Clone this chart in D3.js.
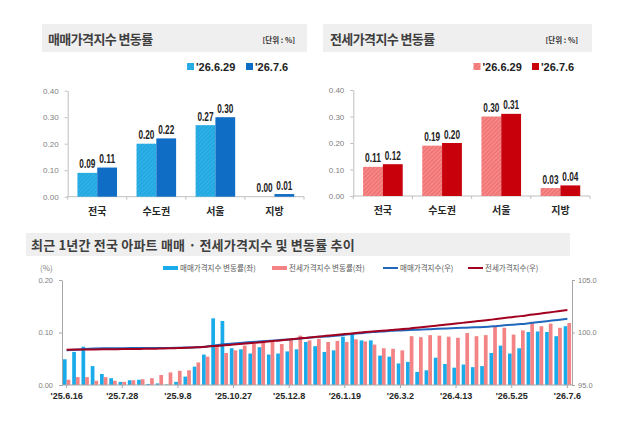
<!DOCTYPE html>
<html>
<head>
<meta charset="utf-8">
<script src="https://cdn.jsdelivr.net/npm/d3@7"></script>
<style>
  body { margin: 0; background: #fff; }
  svg { display: block; }
  text { font-family: "Liberation Sans", Arial, sans-serif; }
  .kr { font-family: "Noto Sans CJK KR", sans-serif; }
  .num { font-family: "Liberation Sans Narrow", "Liberation Sans", sans-serif; }
</style>
</head>
<body>
<svg id="chart" width="640" height="447"></svg>
<script>
// top panels
const regions = ["전국", "수도권", "서울", "지방"];
const compareWeeks = ["'26.6.29", "'26.7.6"];
const saleChangePrev = [0.09, 0.20, 0.27, 0.00];
const saleChangeLast = [0.11, 0.22, 0.30, 0.01];
const jeonseChangePrev = [0.11, 0.19, 0.30, 0.03];
const jeonseChangeLast = [0.12, 0.20, 0.31, 0.04];
const topTicks = [0, 0.1, 0.2, 0.3, 0.4];

// bottom panel: weekly series
const weeks = [
  "'25.6.16", "'25.6.23", "'25.6.30", "'25.7.7", "'25.7.14", "'25.7.21", "'25.7.28", "'25.8.4",
  "'25.8.11", "'25.8.18", "'25.8.25", "'25.9.1", "'25.9.8", "'25.9.15", "'25.9.22", "'25.9.29",
  "'25.10.13", "'25.10.20", "'25.10.27", "'25.11.3", "'25.11.10", "'25.11.17", "'25.11.24", "'25.12.1",
  "'25.12.8", "'25.12.15", "'25.12.22", "'25.12.29", "'26.1.5", "'26.1.12", "'26.1.19", "'26.1.26",
  "'26.2.2", "'26.2.9", "'26.2.16", "'26.2.23", "'26.3.2", "'26.3.9", "'26.3.16", "'26.3.23",
  "'26.3.30", "'26.4.6", "'26.4.13", "'26.4.20", "'26.4.27", "'26.5.4", "'26.5.11", "'26.5.18",
  "'26.5.25", "'26.6.1", "'26.6.8", "'26.6.15", "'26.6.22", "'26.6.29", "'26.7.6"
];
const saleRateWeekly = [
  0.049, 0.063, 0.073, 0.036, 0.021, 0.013, 0.006, 0.009, 0.010, 0.002, 0.003, 0.001, 0.006, 0.016,
  0.035, 0.058, 0.127, 0.122, 0.070, 0.068, 0.060, 0.072, 0.058, 0.060, 0.064, 0.068, 0.082, 0.074,
  0.063, 0.066, 0.092, 0.096, 0.085, 0.085, 0.056, 0.054, 0.041, 0.044, 0.025, 0.028, 0.052, 0.040,
  0.033, 0.039, 0.034, 0.036, 0.061, 0.075, 0.060, 0.070, 0.101, 0.102, 0.101, 0.093, 0.112
];
const jeonseRateWeekly = [
  0.010, 0.015, 0.015, 0.008, 0.015, 0.008, 0.006, 0.009, 0.011, 0.013, 0.019, 0.024, 0.027, 0.028,
  0.043, 0.054, 0.075, 0.061, 0.066, 0.075, 0.078, 0.083, 0.083, 0.078, 0.087, 0.094, 0.085, 0.088,
  0.082, 0.084, 0.082, 0.087, 0.083, 0.077, 0.070, 0.069, 0.066, 0.093, 0.091, 0.095, 0.094, 0.092,
  0.090, 0.099, 0.093, 0.095, 0.112, 0.109, 0.096, 0.104, 0.118, 0.112, 0.117, 0.109, 0.118
];
const saleIndex = [
  98.30, 98.36, 98.43, 98.47, 98.49, 98.50, 98.51, 98.52, 98.53, 98.53, 98.53, 98.53, 98.54, 98.56,
  98.59, 98.65, 98.77, 98.89, 98.96, 99.03, 99.09, 99.16, 99.22, 99.28, 99.34, 99.41, 99.49, 99.56,
  99.63, 99.69, 99.78, 99.88, 99.96, 100.05, 100.10, 100.16, 100.20, 100.24, 100.27, 100.30, 100.35, 100.39,
  100.42, 100.46, 100.50, 100.53, 100.59, 100.67, 100.73, 100.80, 100.90, 101.00, 101.10, 101.20, 101.31
];
const jeonseIndex = [
  98.35, 98.37, 98.38, 98.39, 98.40, 98.41, 98.42, 98.43, 98.44, 98.45, 98.47, 98.49, 98.52, 98.55,
  98.59, 98.65, 98.72, 98.78, 98.85, 98.92, 99.00, 99.08, 99.17, 99.24, 99.33, 99.43, 99.51, 99.60,
  99.68, 99.76, 99.85, 99.93, 100.02, 100.09, 100.16, 100.23, 100.30, 100.39, 100.48, 100.58, 100.67, 100.76,
  100.85, 100.95, 101.05, 101.14, 101.25, 101.36, 101.46, 101.56, 101.68, 101.79, 101.91, 102.02, 102.14
];
const rateTicks = [0, 0.1, 0.2];
const indexTicks = [95, 100, 105];
const legendLabels = ["매매가격지수  변동률(좌)", "전세가격지수  변동률(좌)", "매매가격지수(우)", "전세가격지수(우)"];

const svg = d3.select("#chart");
svg.append("rect").attr("width", 640).attr("height", 447).attr("fill", "#fff");

const defs = svg.append("defs");
makeHatch("hatchBlue", "#22a9e2", "#45b8ea");
makeHatch("hatchPink", "#f27575", "#f9a4a4");

function makeHatch(id, base, stripe) {
  const p = defs.append("pattern")
    .attr("id", id)
    .attr("patternUnits", "userSpaceOnUse")
    .attr("width", 3).attr("height", 3)
    .attr("patternTransform", "rotate(45)");
  p.append("rect").attr("width", 3).attr("height", 3).attr("fill", base);
  p.append("line").attr("x1", 0).attr("y1", 0).attr("x2", 0).attr("y2", 3)
    .attr("stroke", stripe).attr("stroke-width", 1.2);
}

drawTopChart({
  box: [42, 24, 265, 28], title: "매매가격지수 변동률", titleX: 48, unitX: 295,
  left: 67.7, right: 304, yTop: 90.7, yBottom: 196.7,
  prev: saleChangePrev, last: saleChangeLast,
  colors: ["url(#hatchBlue)", "#0f6dc5"],
  legendX: [187, 246]
});

drawTopChart({
  box: [323, 24, 269, 28], title: "전세가격지수 변동률", titleX: 330, unitX: 578,
  left: 353.3, right: 590, yTop: 90, yBottom: 196,
  prev: jeonseChangePrev, last: jeonseChangeLast,
  colors: ["url(#hatchPink)", "#c8000b"],
  legendX: [473.5, 532]
});

drawTrendChart();

function drawTopChart(cfg) {
  const g = svg.append("g");

  g.append("rect")
    .attr("x", cfg.box[0]).attr("y", cfg.box[1])
    .attr("width", cfg.box[2]).attr("height", cfg.box[3])
    .attr("fill", "#efefef");
  g.append("text").attr("class", "kr")
    .attr("x", cfg.titleX).attr("y", 44)
    .attr("font-size", 13).attr("font-weight", "bold").attr("letter-spacing", -0.6)
    .attr("fill", "#3f3f3f")
    .text(cfg.title);
  g.append("text").attr("class", "kr")
    .attr("x", cfg.unitX).attr("y", 43)
    .attr("text-anchor", "end")
    .attr("font-size", 7.5).attr("font-weight", "bold")
    .attr("fill", "#333")
    .text("[단위 : %]");

  // legend
  compareWeeks.forEach((w, i) => {
    g.append("rect")
      .attr("x", cfg.legendX[i]).attr("y", 63)
      .attr("width", 7).attr("height", 7)
      .attr("fill", cfg.colors[i]);
    g.append("text")
      .attr("x", cfg.legendX[i] + 9).attr("y", 70.5)
      .attr("font-size", 11).attr("font-weight", "bold")
      .attr("fill", "#222")
      .text(w);
  });

  const y = d3.scaleLinear().domain([0, 0.4]).range([cfg.yBottom, cfg.yTop]);
  const x = d3.scaleBand().domain(regions).range([cfg.left, cfg.right]).padding(0);
  const bw = x.bandwidth();
  const inner = d3.scaleBand().domain([0, 1]).range([bw * 0.165, bw * 0.835]).padding(0);

  // y axis
  const yAxis = g.append("g")
    .attr("transform", `translate(${cfg.left},0)`)
    .call(d3.axisLeft(y).tickValues(topTicks).tickSize(3).tickSizeOuter(0).tickFormat(d3.format(".2f")));
  yAxis.select(".domain").attr("stroke", "#bfbfbf");
  yAxis.selectAll(".tick line").attr("stroke", "#bfbfbf");
  yAxis.selectAll(".tick text")
    .attr("x", -9)
    .attr("font-family", "Liberation Sans, sans-serif")
    .attr("font-size", 8).attr("fill", "#808080");

  // x axis line with category separators
  g.append("line")
    .attr("x1", cfg.left).attr("x2", cfg.right)
    .attr("y1", cfg.yBottom).attr("y2", cfg.yBottom)
    .attr("stroke", "#bfbfbf");
  regions.concat(["end"]).forEach((r, i) => {
    const xx = i < regions.length ? x(r) : cfg.right;
    g.append("line")
      .attr("x1", xx).attr("x2", xx)
      .attr("y1", cfg.yBottom).attr("y2", cfg.yBottom + 3)
      .attr("stroke", "#bfbfbf");
  });

  const series = [cfg.prev, cfg.last];
  series.forEach((vals, si) => {
    vals.forEach((v, ci) => {
      const bx = x(regions[ci]) + inner(si);
      g.append("rect")
        .attr("x", bx).attr("y", y(v))
        .attr("width", inner.bandwidth())
        .attr("height", y(0) - y(v))
        .attr("fill", cfg.colors[si]);
      // condensed value label
      g.append("text").attr("class", "num")
        .attr("x", bx + inner.bandwidth() / 2)
        .attr("y", y(v) - 4.5)
        .attr("text-anchor", "middle")
        .attr("font-size", 12).attr("font-weight", "bold")
        .attr("textLength", 16).attr("lengthAdjust", "spacingAndGlyphs")
        .attr("fill", "#222")
        .text(v.toFixed(2));
    });
  });

  regions.forEach(r => {
    g.append("text").attr("class", "kr")
      .attr("x", x(r) + bw / 2).attr("y", cfg.yBottom + 18)
      .attr("text-anchor", "middle")
      .attr("font-size", 10).attr("font-weight", "bold")
      .attr("fill", "#262626")
      .text(r);
  });
}

function drawTrendChart() {
  const g = svg.append("g");
  const left = 62, right = 572, top = 280, bottom = 385;

  g.append("rect")
    .attr("x", 26).attr("y", 233).attr("width", 544).attr("height", 23)
    .attr("fill", "#efefef");
  g.append("text").attr("class", "kr")
    .attr("x", 31).attr("y", 250)
    .attr("font-size", 13).attr("font-weight", "bold").attr("letter-spacing", 0.2)
    .attr("fill", "#3f3f3f")
    .text("최근 1년간 전국 아파트 매매 · 전세가격지수 및 변동률 추이");

  g.append("text").attr("class", "kr")
    .attr("x", 40).attr("y", 271)
    .attr("font-size", 8).attr("fill", "#7f7f7f")
    .text("(%)");

  // legend
  const legendColors = ["#1aacea", "#f38385", "#2168bd", "#a1001f"];
  const legendX = [163, 272, 383, 468];
  legendLabels.forEach((lab, i) => {
    if (i < 2) {
      g.append("rect")
        .attr("x", legendX[i]).attr("y", 266)
        .attr("width", 15).attr("height", 4)
        .attr("fill", legendColors[i]);
    } else {
      g.append("line")
        .attr("x1", legendX[i]).attr("x2", legendX[i] + 15)
        .attr("y1", 268).attr("y2", 268)
        .attr("stroke", legendColors[i]).attr("stroke-width", 2);
    }
    g.append("text").attr("class", "kr")
      .attr("x", legendX[i] + 17).attr("y", 271)
      .attr("font-size", 7.5).attr("fill", "#595959")
      .text(lab);
  });

  const x = d3.scaleBand().domain(weeks).range([left, right]).paddingInner(0.2).paddingOuter(0.1);
  const yL = d3.scaleLinear().domain([0, 0.2]).range([bottom, top]);
  const yR = d3.scaleLinear().domain([95, 105]).range([bottom, top]);
  const half = x.bandwidth() / 2;

  // bars
  g.selectAll(".saleBar")
    .data(saleRateWeekly)
    .enter().append("rect")
    .attr("x", (d, i) => x(weeks[i]))
    .attr("y", d => yL(d))
    .attr("width", half)
    .attr("height", d => yL(0) - yL(d))
    .attr("fill", "#1aacea");
  g.selectAll(".jeonseBar")
    .data(jeonseRateWeekly)
    .enter().append("rect")
    .attr("x", (d, i) => x(weeks[i]) + half)
    .attr("y", d => yL(d))
    .attr("width", half)
    .attr("height", d => yL(0) - yL(d))
    .attr("fill", "#f38385");

  // axes
  const axL = g.append("g")
    .attr("transform", `translate(${left},0)`)
    .call(d3.axisLeft(yL).tickValues(rateTicks).tickSize(3).tickSizeOuter(0).tickFormat(d3.format(".2f")));
  const axR = g.append("g")
    .attr("transform", `translate(${right},0)`)
    .call(d3.axisRight(yR).tickValues(indexTicks).tickSize(3).tickSizeOuter(0).tickFormat(d3.format(".1f")));
  [axL, axR].forEach(ax => {
    ax.select(".domain").attr("stroke", "#a6a6a6");
    ax.selectAll(".tick line").attr("stroke", "#a6a6a6");
    ax.selectAll(".tick text")
      .attr("font-family", "Liberation Sans, sans-serif")
      .attr("font-size", 7.5).attr("fill", "#808080");
  });
  axL.selectAll(".tick text").attr("x", -9);
  axR.selectAll(".tick text").attr("x", 6);

  g.append("line")
    .attr("x1", left).attr("x2", right)
    .attr("y1", bottom).attr("y2", bottom)
    .attr("stroke", "#a6a6a6");

  // index lines
  const line = d3.line()
    .x((d, i) => x(weeks[i]) + x.bandwidth() / 2)
    .y(d => yR(d))
    .curve(d3.curveMonotoneX);
  g.append("path").datum(saleIndex)
    .attr("d", line)
    .attr("fill", "none").attr("stroke", "#2168bd").attr("stroke-width", 2);
  g.append("path").datum(jeonseIndex)
    .attr("d", line)
    .attr("fill", "none").attr("stroke", "#a1001f").attr("stroke-width", 2);

  // x labels every 6 weeks
  weeks.forEach((w, i) => {
    if (i % 6 !== 0) return;
    const cx = x(w) + x.bandwidth() / 2;
    g.append("line")
      .attr("x1", cx).attr("x2", cx)
      .attr("y1", bottom).attr("y2", bottom + 3)
      .attr("stroke", "#a6a6a6");
    g.append("text")
      .attr("x", cx).attr("y", bottom + 14)
      .attr("text-anchor", "middle")
      .attr("font-size", 9).attr("font-weight", "bold")
      .attr("fill", "#262626")
      .text(w);
  });
}
</script>
</body>
</html>
